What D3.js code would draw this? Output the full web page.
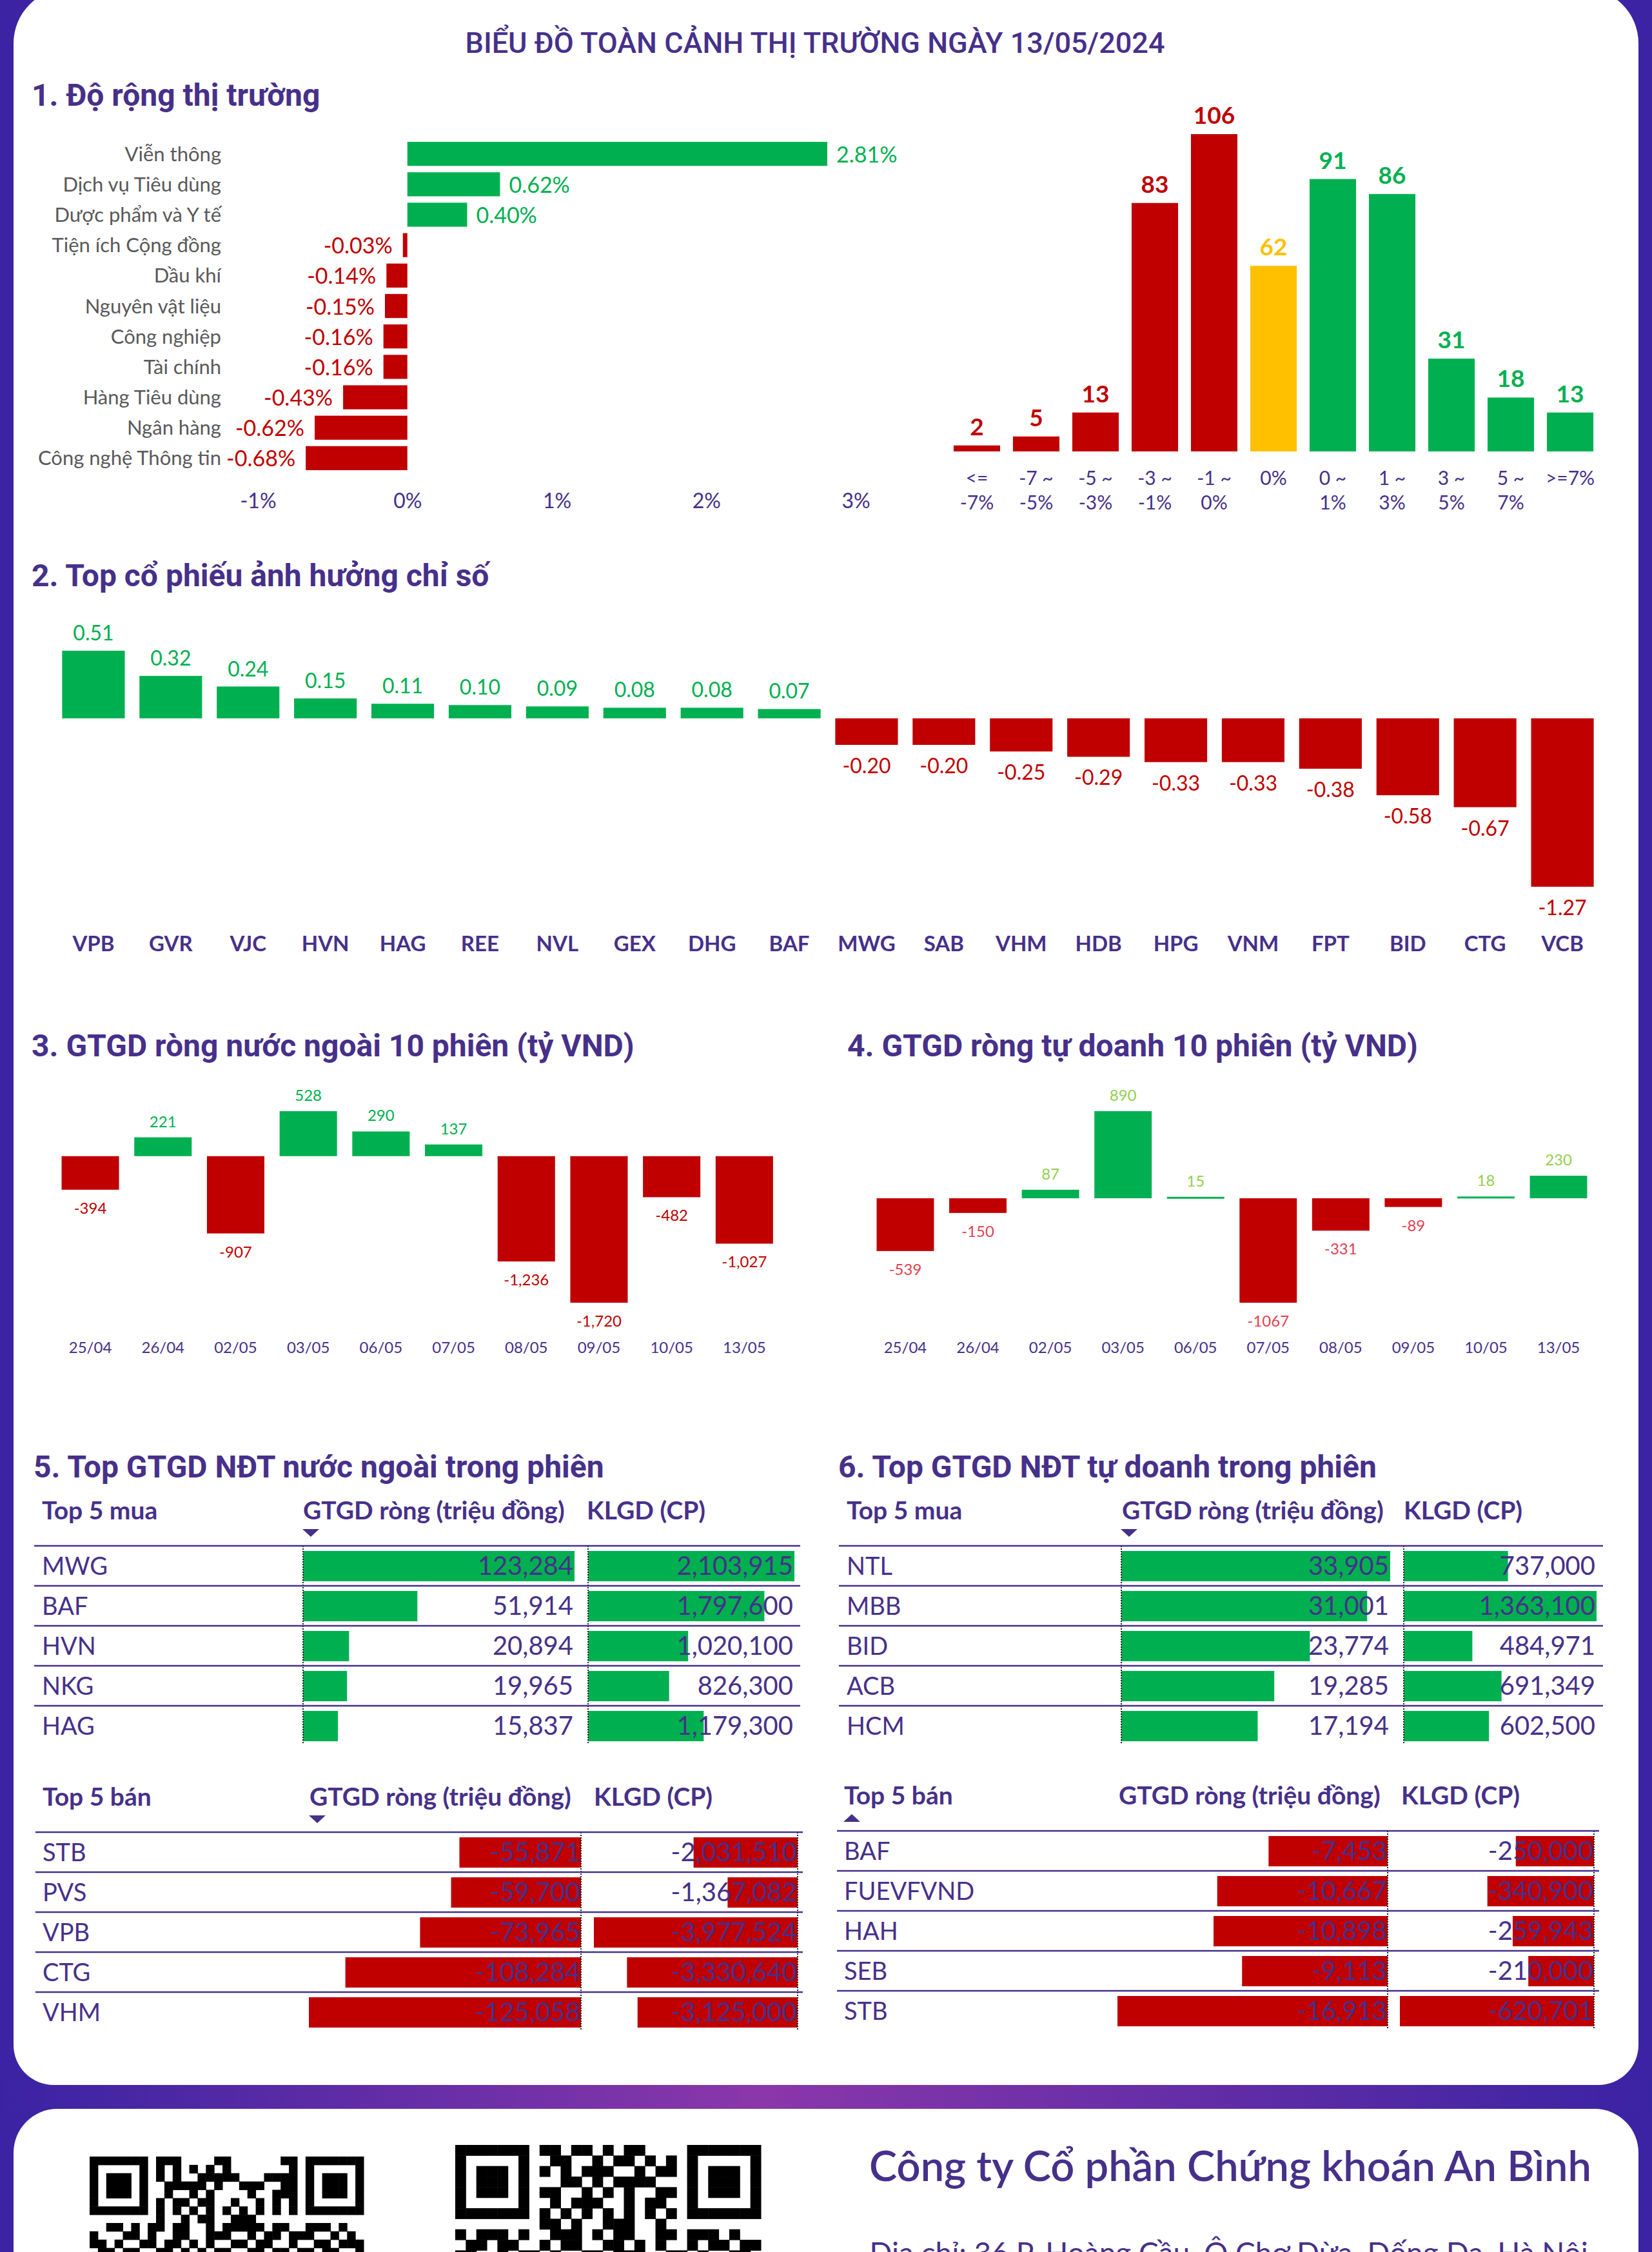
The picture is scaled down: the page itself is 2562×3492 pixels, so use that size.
<!DOCTYPE html>
<html lang="vi">
<head>
<meta charset="UTF-8">
<title>Biểu đồ toàn cảnh thị trường 13/05/2024</title>
<script src="https://d3js.org/d3.v7.min.js"></script>
<style>
  body { margin: 0; background: #3b23a3; }
  svg { display: block; }
  text { font-family: Lato, "Noto Sans", sans-serif; }
  .title { font-family: Roboto, sans-serif; font-weight: 700; font-size: 48px; fill: #46308a; }
</style>
</head>
<body>
<script>
// 1. sector change (%)
const sectors = ["Viễn thông", "Dịch vụ Tiêu dùng", "Dược phẩm và Y tế", "Tiện ích Cộng đồng", "Dầu khí",
  "Nguyên vật liệu", "Công nghiệp", "Tài chính", "Hàng Tiêu dùng", "Ngân hàng", "Công nghệ Thông tin"];
const sectorChange = [2.81, 0.62, 0.40, -0.03, -0.14, -0.15, -0.16, -0.16, -0.43, -0.62, -0.68];
const sectorTicks = [-1, 0, 1, 2, 3];

// 1b. number of stocks by price change range
const rangeLabelTop = ["<=", "-7 ~", "-5 ~", "-3 ~", "-1 ~", "0%", "0 ~", "1 ~", "3 ~", "5 ~", ">=7%"];
const rangeLabelBottom = ["-7%", "-5%", "-3%", "-1%", "0%", "", "1%", "3%", "5%", "7%", ""];
const rangeCounts = [2, 5, 13, 83, 106, 62, 91, 86, 31, 18, 13];
const rangeTrend = ["down", "down", "down", "down", "down", "flat", "up", "up", "up", "up", "up"];

// 2. index impact
const impactTickers = ["VPB", "GVR", "VJC", "HVN", "HAG", "REE", "NVL", "GEX", "DHG", "BAF",
  "MWG", "SAB", "VHM", "HDB", "HPG", "VNM", "FPT", "BID", "CTG", "VCB"];
const impactValues = [0.51, 0.32, 0.24, 0.15, 0.11, 0.10, 0.09, 0.08, 0.08, 0.07,
  -0.20, -0.20, -0.25, -0.29, -0.33, -0.33, -0.38, -0.58, -0.67, -1.27];

// 3 & 4. net value, 10 sessions (bn VND)
const sessionDates = ["25/04", "26/04", "02/05", "03/05", "06/05", "07/05", "08/05", "09/05", "10/05", "13/05"];
const foreignNet = [-394, 221, -907, 528, 290, 137, -1236, -1720, -482, -1027];
const propNet = [-539, -150, 87, 890, 15, -1067, -331, -89, 18, 230];

// 5. foreign investors
const foreignBuyTickers = ["MWG", "BAF", "HVN", "NKG", "HAG"];
const foreignBuyValue = [123284, 51914, 20894, 19965, 15837];
const foreignBuyVolume = [2103915, 1797600, 1020100, 826300, 1179300];
const foreignSellTickers = ["STB", "PVS", "VPB", "CTG", "VHM"];
const foreignSellValue = [-55871, -59700, -73965, -108284, -125058];
const foreignSellVolume = [-2031510, -1367082, -3977524, -3330640, -3125000];

// 6. proprietary trading
const propBuyTickers = ["NTL", "MBB", "BID", "ACB", "HCM"];
const propBuyValue = [33905, 31001, 23774, 19285, 17194];
const propBuyVolume = [737000, 1363100, 484971, 691349, 602500];
const propSellTickers = ["BAF", "FUEVFVND", "HAH", "SEB", "STB"];
const propSellValue = [-7453, -10667, -10898, -9113, -16913];
const propSellVolume = [-250000, -340900, -259943, -210000, -620701];

// QR codes (top rows only, the rest is cut off by the page)
const qr1Rows = [
  "1111111 0 111 0000 11 000000 11 0 1111111",
  "1000001 0 1010 1010 1 000000 01 0 1000001",
  "1011101 0 1010 0111 11 0001 111 0 1011101",
  "1011101 0 0111 1101 00 111 0011 0 1011101",
  "1011101 0 0100 1010 00 0100 111 0 1011101",
  "1000001 0 1011 0110 01 001 0101 0 1000001",
  "1111111 0 1010 1010 10 101 0101 0 1111111",
  "0000000 0 1001 0110 01 110 0000 0 0000000",
  "0011010 1 1011 0010 11 111 0110 0 1110100",
  "1000110 1 0011 0011 10 010 1101 1 1001010",
  "1101001 1 0110 1010 01 101 1001 0 0110111",
  "0110110 0 1101 0101 10 011 0110 1 1011001"
];
const qr2Rows = [
  "1111111 0 1101101011000 0 1111111",
  "1000001 0 0110010110101 0 1000001",
  "1011101 0 1010111001011 0 1011101",
  "1011101 0 0011010111100 0 1011101",
  "1011101 0 1100101010011 0 1011101",
  "1000001 0 0101110010110 0 1000001",
  "1111111 0 1010101010101 0 1111111",
  "00000000 1101001110010 00000000",
  "10111010011101011001101110100",
  "01101100101100110101001011011",
  "11001011010011011100110100110"
];

const W = 2562, H = 3492;
const PURPLE = "#46308a", RED = "#c00000", GREEN = "#00b050", YELLOW = "#ffc000";
const fmt = d3.formatLocale({ decimal: ".", thousands: ",", grouping: [3], currency: ["", ""], minus: "-" });

const svg = d3.select("body").append("svg").attr("width", W).attr("height", H);

// ---------- background ----------
const grad = svg.append("defs").append("linearGradient").attr("id", "band");
grad.append("stop").attr("offset", "0%").attr("stop-color", "#3a23a3");
grad.append("stop").attr("offset", "46%").attr("stop-color", "#8a37aa");
grad.append("stop").attr("offset", "100%").attr("stop-color", "#3a23a3");

svg.append("rect").attr("width", W).attr("height", H).attr("fill", "#3b23a3");
svg.append("rect").attr("y", 3226).attr("width", W).attr("height", 50).attr("fill", "url(#band)");

function panel(x, y, w, h, rt, rb) {
  return `M${x + rt},${y} H${x + w - rt} A${rt},${rt} 0 0 1 ${x + w},${y + rt} V${y + h - rb}` +
    ` A${rb},${rb} 0 0 1 ${x + w - rb},${y + h} H${x + rb} A${rb},${rb} 0 0 1 ${x},${y + h - rb}` +
    ` V${y + rt} A${rt},${rt} 0 0 1 ${x + rt},${y} Z`;
}
svg.append("path").attr("d", panel(21, -18, 2520, 3251, 85, 62)).attr("fill", "#fff");
svg.append("path").attr("d", panel(21, 3270, 2520, 400, 68, 1)).attr("fill", "#fff");

// ---------- titles ----------
svg.append("text").attr("x", 1264).attr("y", 82).attr("text-anchor", "middle")
  .style("font-family", "Roboto, sans-serif").style("font-weight", 500).style("font-size", "45px")
  .attr("fill", PURPLE).text("BIỂU ĐỒ TOÀN CẢNH THỊ TRƯỜNG NGÀY 13/05/2024");

const titles = [
  [49, 164, "1. Độ rộng thị trường"],
  [49, 909, "2. Top cổ phiếu ảnh hưởng chỉ số"],
  [49, 1638, "3. GTGD ròng nước ngoài 10 phiên (tỷ VND)"],
  [1314, 1638, "4. GTGD ròng tự doanh 10 phiên (tỷ VND)"],
  [52, 2291, "5. Top GTGD NĐT nước ngoài trong phiên"],
  [1300, 2291, "6. Top GTGD NĐT tự doanh trong phiên"]
];
svg.selectAll(".title").data(titles).enter().append("text")
  .attr("class", "title").attr("x", d => d[0]).attr("y", d => d[1]).text(d => d[2]);

// ---------- 1. sectors ----------
const ySec = d3.scaleBand().domain(sectors).range([215, 734]).paddingInner(0.21).paddingOuter(0.105);
const xSec = d3.scaleLinear().domain([-1, 3]).range([400, 1327]);
const gSec = svg.append("g");

gSec.selectAll("rect").data(sectors).enter().append("rect")
  .attr("x", (d, i) => xSec(Math.min(0, sectorChange[i])))
  .attr("y", d => ySec(d))
  .attr("width", (d, i) => Math.abs(xSec(sectorChange[i]) - xSec(0)))
  .attr("height", ySec.bandwidth())
  .attr("fill", (d, i) => sectorChange[i] >= 0 ? GREEN : RED);

gSec.selectAll(".name").data(sectors).enter().append("text")
  .attr("x", 343).attr("y", d => ySec(d) + ySec.bandwidth() / 2 + 11)
  .attr("text-anchor", "end").attr("fill", "#595959").style("font-size", "31px").text(d => d);

gSec.selectAll(".val").data(sectorChange).enter().append("text")
  .attr("x", d => d >= 0 ? xSec(d) + 14 : xSec(d) - 16)
  .attr("y", (d, i) => ySec(sectors[i]) + ySec.bandwidth() / 2 + 13)
  .attr("text-anchor", d => d >= 0 ? "start" : "end")
  .attr("fill", d => d >= 0 ? GREEN : RED).style("font-size", "34px")
  .text(d => fmt.format(".2f")(d) + "%");

const secAxis = svg.append("g").attr("transform", "translate(0,765)")
  .call(d3.axisBottom(xSec).tickValues(sectorTicks).tickFormat(d => d + "%").tickSize(0).tickPadding(0));
secAxis.select(".domain").remove();
secAxis.selectAll("text").attr("fill", PURPLE).style("font-size", "32px").style("font-family", "Lato, sans-serif");

// ---------- 1b. distribution ----------
const xDist = d3.scaleBand().domain(d3.range(rangeCounts.length)).range([1469, 2481])
  .paddingInner(0.217).paddingOuter(0.108);
const yDist = d3.scaleLinear().domain([0, d3.max(rangeCounts)]).range([700, 208]);
const trendColor = { down: RED, flat: YELLOW, up: GREEN };
const gDist = svg.append("g");

gDist.selectAll("rect").data(rangeCounts).enter().append("rect")
  .attr("x", (d, i) => xDist(i)).attr("y", d => yDist(d))
  .attr("width", xDist.bandwidth()).attr("height", d => yDist(0) - yDist(d))
  .attr("fill", (d, i) => trendColor[rangeTrend[i]]);

gDist.selectAll(".val").data(rangeCounts).enter().append("text")
  .attr("x", (d, i) => xDist(i) + xDist.bandwidth() / 2).attr("y", d => yDist(d) - 16)
  .attr("text-anchor", "middle").attr("fill", (d, i) => trendColor[rangeTrend[i]])
  .style("font-size", "37px").style("font-weight", 700).text(d => d);

const distLab = gDist.selectAll(".lab").data(rangeLabelTop).enter().append("text")
  .attr("text-anchor", "middle").attr("fill", PURPLE).style("font-size", "30px");
distLab.append("tspan").attr("x", (d, i) => xDist(i) + xDist.bandwidth() / 2).attr("y", 752).text(d => d);
distLab.append("tspan").attr("x", (d, i) => xDist(i) + xDist.bandwidth() / 2).attr("y", 790)
  .text((d, i) => rangeLabelBottom[i]);

// ---------- 2. index impact ----------
const xImp = d3.scaleBand().domain(impactTickers).range([85, 2483]).paddingInner(0.19).paddingOuter(0.095);
const yImp = d3.scaleLinear().domain(d3.extent(impactValues)).range([1375, 1009]);
const gImp = svg.append("g");

gImp.selectAll("rect").data(impactValues).enter().append("rect")
  .attr("x", (d, i) => xImp(impactTickers[i])).attr("y", d => yImp(Math.max(0, d)))
  .attr("width", xImp.bandwidth()).attr("height", d => Math.abs(yImp(d) - yImp(0)))
  .attr("fill", d => d >= 0 ? GREEN : RED);

gImp.selectAll(".val").data(impactValues).enter().append("text")
  .attr("x", (d, i) => xImp(impactTickers[i]) + xImp.bandwidth() / 2)
  .attr("y", d => d >= 0 ? yImp(d) - 16 : yImp(d) + 44)
  .attr("text-anchor", "middle").attr("fill", d => d >= 0 ? GREEN : RED)
  .style("font-size", "32px").text(d => fmt.format(".2f")(d));

gImp.selectAll(".tk").data(impactTickers).enter().append("text")
  .attr("x", d => xImp(d) + xImp.bandwidth() / 2).attr("y", 1475)
  .attr("text-anchor", "middle").attr("fill", PURPLE)
  .style("font-size", "33px").style("font-weight", 700).text(d => d);

// ---------- 3 & 4. net flows ----------
function netChart(values, x0, x1, posColor, negColor, format) {
  const x = d3.scaleBand().domain(sessionDates).range([x0, x1]).paddingInner(0.21).paddingOuter(0.105);
  const y = d3.scaleLinear().domain(d3.extent(values)).range([2020, 1723]);
  const g = svg.append("g");
  g.selectAll("rect").data(values).enter().append("rect")
    .attr("x", (d, i) => x(sessionDates[i])).attr("y", d => y(Math.max(0, d)))
    .attr("width", x.bandwidth()).attr("height", d => Math.max(3, Math.abs(y(d) - y(0))))
    .attr("fill", d => d >= 0 ? GREEN : RED);
  g.selectAll(".val").data(values).enter().append("text")
    .attr("x", (d, i) => x(sessionDates[i]) + x.bandwidth() / 2)
    .attr("y", d => d >= 0 ? y(d) - 16 : y(d) + 37)
    .attr("text-anchor", "middle").attr("fill", d => d >= 0 ? posColor : negColor)
    .style("font-size", "24px").text(d => format(d));
  g.selectAll(".dt").data(sessionDates).enter().append("text")
    .attr("x", d => x(d) + x.bandwidth() / 2).attr("y", 2098)
    .attr("text-anchor", "middle").attr("fill", PURPLE).style("font-size", "24px").text(d => d);
}
netChart(foreignNet, 83.7, 1210.7, GREEN, RED, fmt.format(","));
netChart(propNet, 1347.7, 2473.3, "#92d050", "#e5404f", fmt.format("d"));

// ---------- 5 & 6. tables ----------
const ROW = 62;
function table(t) {
  const g = svg.append("g");
  const head = [[t.tickerX, t.label], [t.gtgdHeadX, "GTGD ròng (triệu đồng)"], [t.klgdHeadX, "KLGD (CP)"]];
  g.selectAll(".head").data(head).enter().append("text")
    .attr("x", d => d[0]).attr("y", t.headY).attr("fill", PURPLE)
    .style("font-size", "39px").style("font-weight", 700).text(d => d[1]);
  const s = t.sort;
  g.append("path").attr("fill", PURPLE).attr("d", s.dir === "down"
    ? `M${s.x - 13},${s.y} H${s.x + 13} L${s.x},${s.y + 12} Z`
    : `M${s.x - 13},${s.y + 12} H${s.x + 13} L${s.x},${s.y} Z`);

  const rows = t.tickers.map((d, i) => i);
  [[t.values, t.gtgd], [t.volumes, t.klgd]].forEach(([vals, col]) => {
    const w = d3.scaleLinear().domain([0, d3.max(vals, v => Math.abs(v))]).range([0, col.maxW]);
    g.selectAll(null).data(rows).enter().append("rect")
      .attr("x", i => t.buy ? col.at : col.at - w(Math.abs(vals[i])))
      .attr("y", i => t.top + i * ROW + 8)
      .attr("width", i => w(Math.abs(vals[i]))).attr("height", 47)
      .attr("fill", t.buy ? GREEN : RED);
    g.selectAll(null).data(rows).enter().append("text")
      .attr("x", t.buy ? col.at + col.maxW - 2 : col.at - 1)
      .attr("y", i => t.top + i * ROW + 45)
      .attr("text-anchor", "end").attr("fill", PURPLE).style("font-size", "40px")
      .text(i => fmt.format(",")(vals[i]));
    g.append("line").attr("x1", col.at).attr("x2", col.at)
      .attr("y1", t.top).attr("y2", t.top + 5 * ROW - 2)
      .attr("stroke", "#222").attr("stroke-width", 2).attr("stroke-dasharray", "2,2");
  });

  g.selectAll(".ln").data(rows).enter().append("line")
    .attr("x1", t.lineX[0]).attr("x2", t.lineX[1])
    .attr("y1", i => t.top + i * ROW).attr("y2", i => t.top + i * ROW)
    .attr("stroke", PURPLE).attr("stroke-width", 2.5);
  g.selectAll(".tk").data(t.tickers).enter().append("text")
    .attr("x", t.tickerX).attr("y", (d, i) => t.top + i * ROW + 45)
    .attr("fill", PURPLE).style("font-size", "38px").text(d => d);
}

table({ buy: true, label: "Top 5 mua", tickers: foreignBuyTickers, values: foreignBuyValue, volumes: foreignBuyVolume,
  tickerX: 65, headY: 2356, gtgdHeadX: 470, klgdHeadX: 910, sort: { x: 482, y: 2371, dir: "down" },
  top: 2397, lineX: [53, 1241], gtgd: { at: 470, maxW: 421 }, klgd: { at: 912, maxW: 320 } });
table({ buy: false, label: "Top 5 bán", tickers: foreignSellTickers, values: foreignSellValue, volumes: foreignSellVolume,
  tickerX: 66, headY: 2800, gtgdHeadX: 480, klgdHeadX: 921, sort: { x: 492, y: 2815, dir: "down" },
  top: 2841, lineX: [55, 1245], gtgd: { at: 901, maxW: 422 }, klgd: { at: 1237, maxW: 316 } });
table({ buy: true, label: "Top 5 mua", tickers: propBuyTickers, values: propBuyValue, volumes: propBuyVolume,
  tickerX: 1313, headY: 2356, gtgdHeadX: 1740, klgdHeadX: 2177, sort: { x: 1751, y: 2371, dir: "down" },
  top: 2397, lineX: [1301, 2486], gtgd: { at: 1739, maxW: 417 }, klgd: { at: 2177, maxW: 299 } });
table({ buy: false, label: "Top 5 bán", tickers: propSellTickers, values: propSellValue, volumes: propSellVolume,
  tickerX: 1309, headY: 2798, gtgdHeadX: 1735, klgdHeadX: 2173, sort: { x: 1321, y: 2813, dir: "up" },
  top: 2839, lineX: [1298, 2480], gtgd: { at: 2152, maxW: 419 }, klgd: { at: 2472, maxW: 301 } });

// ---------- footer ----------
function qr(rows, x0, y0, size, n) {
  const m = rows.map(r => r.replace(/ /g, "").padEnd(n, "0").slice(0, n));
  const x = d3.scaleBand().domain(d3.range(n)).range([x0, x0 + size]);
  const cells = [];
  m.forEach((r, j) => r.split("").forEach((c, i) => { if (c === "1") cells.push([i, j]); }));
  svg.append("g").selectAll("rect").data(cells).enter().append("rect")
    .attr("x", d => x(d[0])).attr("y", d => y0 + d[1] * x.bandwidth())
    .attr("width", x.bandwidth() + 0.5).attr("height", x.bandwidth() + 0.5).attr("fill", "#000");
}
qr(qr1Rows, 139, 3344, 425, 33);
qr(qr2Rows, 706, 3326, 474, 29);

svg.append("text").attr("x", 1348).attr("y", 3382).attr("fill", PURPLE)
  .style("font-size", "65px").style("font-weight", 600).text("Công ty Cổ phần Chứng khoán An Bình");
svg.append("text").attr("x", 1348).attr("y", 3510).attr("fill", PURPLE)
  .style("font-size", "46px").text("Địa chỉ: 36 P. Hoàng Cầu, Ô Chợ Dừa, Đống Đa, Hà Nội");
</script>
</body>
</html>
